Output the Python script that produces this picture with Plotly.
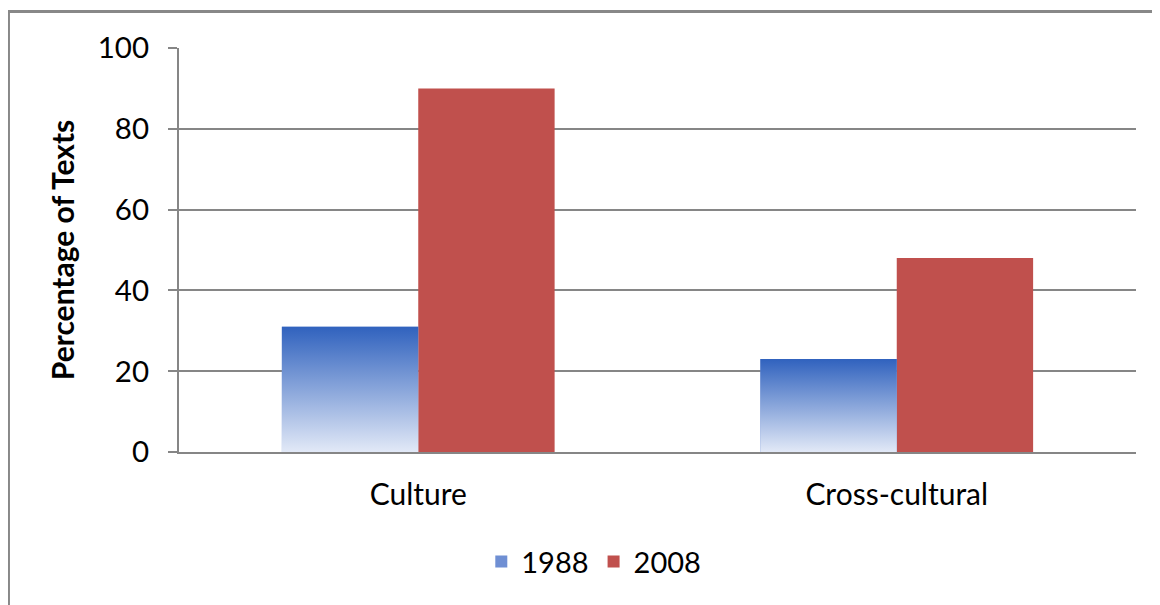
import plotly.graph_objects as go

categories = ["Culture", "Cross-cultural"]
series_names = ["1988", "2008"]
values_1988 = [31, 23]
values_2008 = [90, 48]
y_ticks = [0, 20, 40, 60, 80, 100]

BLUE_TOP = "#3062BE"
BLUE_BOTTOM = "#E2E9F7"
BLUE_MID = "#6F8FD3"
RED = "#C0504D"
GRID = "#868686"
FONT = "Lato"

positions = list(range(len(categories)))
bar_w = 0.285

fig = go.Figure()

# 1988 bars (solid base, covered by gradient fill below)
fig.add_trace(go.Bar(
    x=positions, y=values_1988, width=bar_w, offset=-bar_w,
    name=series_names[0], marker=dict(color=BLUE_MID, line=dict(width=0)),
))
# 2008 bars
fig.add_trace(go.Bar(
    x=positions, y=values_2008, width=bar_w, offset=0,
    name=series_names[1], marker=dict(color=RED, line=dict(width=0)),
))

# gradient overlay for each 1988 bar, derived from the data
for p, v in zip(positions, values_1988):
    xs = [p - bar_w, p - bar_w, p, p, p - bar_w]
    ys = [0, v, v, 0, 0]
    fig.add_trace(go.Scatter(
        x=xs, y=ys, mode="lines", fill="toself",
        line=dict(width=0, color="rgba(0,0,0,0)"),
        fillgradient=dict(type="vertical",
                          colorscale=[[0, BLUE_BOTTOM], [1, BLUE_TOP]]),
        showlegend=False, hoverinfo="skip",
    ))

fig.update_layout(
    width=1160, height=605,
    margin=dict(l=171, r=32, t=40, b=161),
    paper_bgcolor="white", plot_bgcolor="white",
    font=dict(family=FONT, size=29, color="#000000"),
    bargap=0.43,
    showlegend=True,
    legend=dict(
        orientation="h", xref="container", yref="container",
        x=0.505, y=0.085, xanchor="center", yanchor="middle",
        font=dict(family=FONT, size=29), traceorder="normal",
        itemwidth=30,
    ),
    xaxis=dict(
        range=[-0.5, len(categories) - 0.5],
        tickvals=positions, ticktext=categories,
        showgrid=False, zeroline=False,
        showline=True, linecolor=GRID, linewidth=2,
        ticks="", ticklabelstandoff=15,
        tickfont=dict(family=FONT, size=30),
    ),
    yaxis=dict(
        range=[0, 100], tickvals=y_ticks,
        showgrid=True, gridcolor=GRID, gridwidth=1.5,
        zeroline=False,
        showline=True, linecolor=GRID, linewidth=2,
        ticks="outside", ticklen=9, tickcolor=GRID, tickwidth=1.5,
        ticklabelstandoff=13,
        tickfont=dict(family=FONT, size=29.5),
        title=dict(text="<b>Percentage of Texts</b>", standoff=14,
                   font=dict(family=FONT, size=30)),
    ),
    shapes=[dict(
        type="rect", xref="paper", yref="paper",
        x0=-0.1782, x1=1.2, y0=-0.6, y1=1.0904,
        line=dict(color="#888888", width=3), fillcolor="rgba(0,0,0,0)",
        layer="above",
    )],
)

fig.write_html("out.html")
